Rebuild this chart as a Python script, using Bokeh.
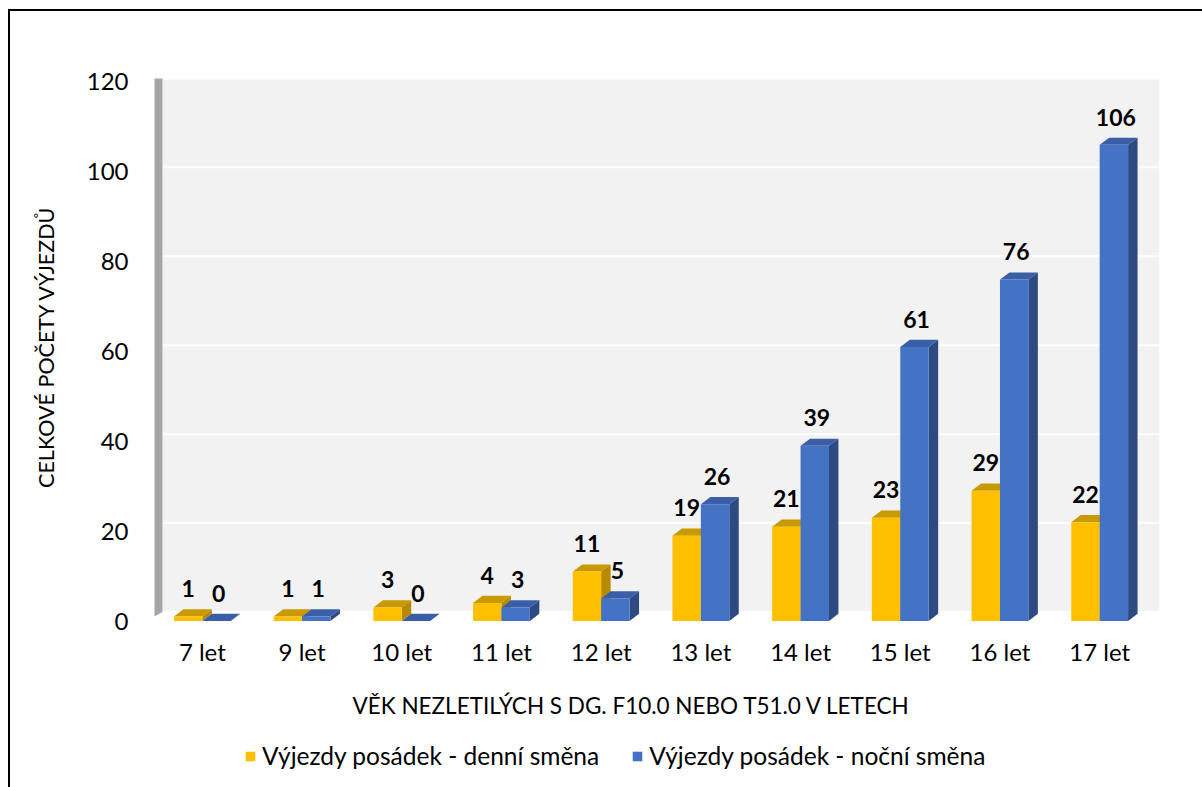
from bokeh.plotting import figure
from bokeh.models import (Range1d, FixedTicker, Title, Legend, LegendItem)
from bokeh.layouts import column
from bokeh.core.properties import value
from bokeh.embed import file_html
from bokeh.resources import INLINE

categories = ["7 let", "9 let", "10 let", "11 let", "12 let", "13 let", "14 let", "15 let", "16 let", "17 let"]
day_values = [1, 1, 3, 4, 11, 19, 21, 23, 29, 22]
night_values = [0, 1, 0, 3, 5, 26, 39, 61, 76, 106]
y_ticks = [0, 20, 40, 60, 80, 100, 120]
series_names = ["Výjezdy posádek - denní směna", "Výjezdy posádek - noční směna"]
x_title = "VĚK NEZLETILÝCH S DG. F10.0 NEBO T51.0 V LETECH"
y_title = "CELKOVÉ POČETY VÝJEZDŮ"

FONT = "Lato"
BW = 0.285      # bar front width (category units)
DX = 0.095      # depth offset x
DY = 1.6        # depth offset y (value units)
BORDER_V = "linear-gradient(#000,#000) 8px 0px / 2px 100% no-repeat"
BORDER_V_TOP = "linear-gradient(#000,#000) 8px 9px / 2px 100% no-repeat"
BORDER_H = "linear-gradient(#000,#000) 8px 9px / 100% 2px no-repeat"

p = figure(width=1202, height=740, output_backend="svg", toolbar_location=None,
           x_range=Range1d(-0.5, 9.6), y_range=Range1d(-1, 123),
           min_border_left=152, min_border_right=43, min_border_top=68, min_border_bottom=114)
p.outline_line_color = None
p.background_fill_color = "white"
p.border_fill_alpha = 0
p.styles = {"background": BORDER_V_TOP + ", " + BORDER_H + ", #ffffff"}
p.xgrid.visible = False
p.ygrid.visible = False

# --- 3D walls ---
wall_x0, wall_x1 = -0.40, 9.6
def wall_y(v):
    return 2.0 + 0.99 * v
p.patch([wall_x0, wall_x1, wall_x1, wall_x0],
        [wall_y(0), wall_y(0), wall_y(120), wall_y(120)],
        fill_color="#f2f2f2", line_color=None)
p.segment(x0=[wall_x0] * len(y_ticks), x1=[wall_x1] * len(y_ticks),
          y0=[wall_y(t) for t in y_ticks], y1=[wall_y(t) for t in y_ticks],
          line_color="white", line_width=2)
p.patch([-0.48, -0.48, wall_x0, wall_x0],
        [1.0, 120.8, wall_y(120), wall_y(0)],
        fill_color="#a6a6a6", line_color=None)

# --- 3D bars ---
styles = [("#FFC000", "#C99A00", "#B88A00"), ("#4472C4", "#3A5FA6", "#2D4B82")]
for k in range(len(categories)):
    for s, vals in enumerate([day_values, night_values]):
        v = vals[k]
        l = k - BW if s == 0 else k
        r = l + BW
        front, top, side = styles[s]
        p.patch([l, r, r + DX, l + DX], [v, v, v + DY, v + DY], fill_color=top, line_color=None)
        p.patch([r, r + DX, r + DX, r], [0, DY, v + DY, v], fill_color=side, line_color=None)
        p.quad(left=[l], right=[r], bottom=[0], top=[v], fill_color=front, line_color=None)

# data labels
lab_x, lab_y, lab_t = [], [], []
for k in range(len(categories)):
    for s, vals in enumerate([day_values, night_values]):
        v = vals[k]
        l = k - BW if s == 0 else k
        lab_x.append(l + BW / 2 + (0.0 if s == 0 else 0.02))
        lab_y.append(v + 6.2)
        lab_t.append(str(v))
p.text(x=lab_x, y=lab_y, text=lab_t, text_font=value(FONT), text_font_size="23px",
       text_font_style="bold", text_align="center", text_baseline="middle", text_color="black")

# --- axes ---
p.yaxis.ticker = FixedTicker(ticks=y_ticks)
p.yaxis.axis_line_color = None
p.yaxis.major_tick_line_color = None
p.yaxis.minor_tick_line_color = None
p.yaxis.major_label_standoff = 18
p.yaxis.major_label_text_font = FONT
p.yaxis.major_label_text_font_size = "24px"
p.yaxis.major_label_text_color = "black"
p.yaxis.axis_label = y_title
p.yaxis.axis_label_text_font = FONT
p.yaxis.axis_label_text_font_size = "21.5px"
p.yaxis.axis_label_text_font_style = "normal"
p.yaxis.axis_label_text_color = "black"
p.yaxis.axis_label_standoff = 25

p.xaxis.ticker = FixedTicker(ticks=list(range(len(categories))))
p.xaxis.major_label_overrides = {i: c for i, c in enumerate(categories)}
p.xaxis.axis_line_color = None
p.xaxis.major_tick_line_color = None
p.xaxis.minor_tick_line_color = None
p.xaxis.major_label_standoff = 5
p.xaxis.major_label_text_font = FONT
p.xaxis.major_label_text_font_size = "24px"
p.xaxis.major_label_text_color = "black"

xt = Title(text=x_title, align="left", offset=200,
           text_font=FONT, text_font_size="22.5px", text_font_style="normal", text_color="black",
           standoff=43)
p.add_layout(xt, "below")

# --- legend row ---
p2 = figure(width=1202, height=47, output_backend="svg", toolbar_location=None,
            x_range=Range1d(0, 1202), y_range=Range1d(0, 47),
            min_border_left=0, min_border_right=0, min_border_top=0, min_border_bottom=0)
p2.axis.visible = False
p2.grid.visible = False
p2.outline_line_color = None
p2.background_fill_alpha = 0
p2.border_fill_alpha = 0
p2.styles = {"background": BORDER_V + ", #ffffff"}
r_day = p2.quad(left=[-50], right=[-40], bottom=[-50], top=[-40], fill_color=styles[0][0], line_color=None)
r_night = p2.quad(left=[-50], right=[-40], bottom=[-50], top=[-40], fill_color=styles[1][0], line_color=None)
legend = Legend(items=[LegendItem(label=series_names[0], renderers=[r_day]),
                       LegendItem(label=series_names[1], renderers=[r_night])],
                orientation="horizontal", location=(92, 17),
                glyph_width=12, glyph_height=12, label_standoff=6, spacing=32,
                label_height=26, padding=0, margin=0, border_line_alpha=0, background_fill_alpha=0,
                label_text_font=FONT, label_text_font_size="24.5px", label_text_color="black")
p2.add_layout(legend, "center")

layout = column(p, p2, spacing=0)
open("out.html", "w").write(file_html(layout, INLINE))
